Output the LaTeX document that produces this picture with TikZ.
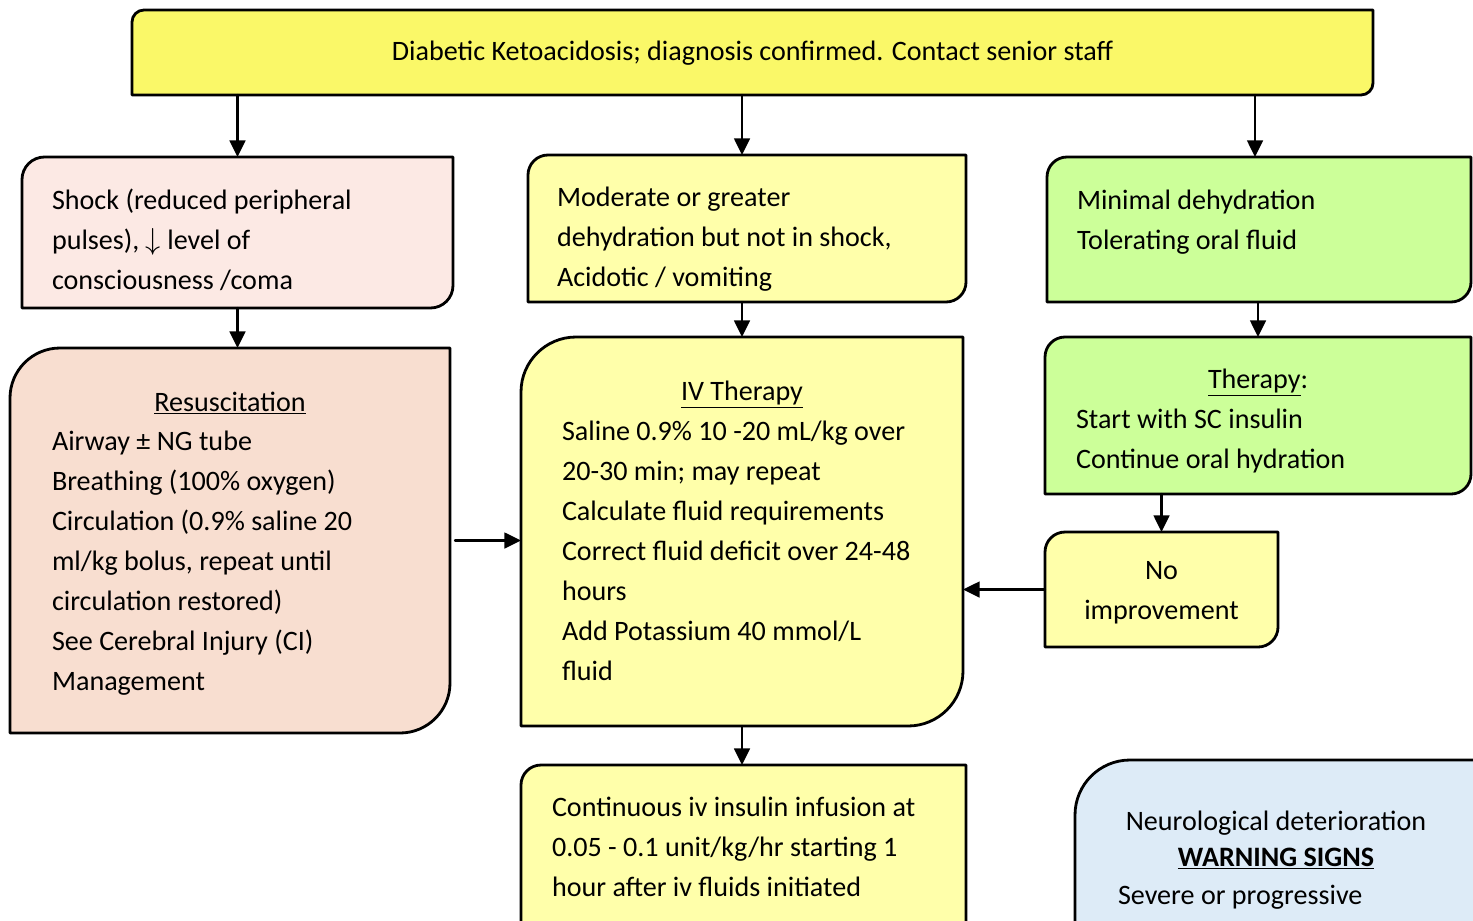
\documentclass[tikz,border=0pt]{standalone}
\usepackage{fontspec}
\setmainfont{Carlito}
\usetikzlibrary{positioning,arrows.meta,fit}

\definecolor{topyellow}{RGB}{250,248,104}
\definecolor{paleyellow}{RGB}{255,255,170}
\definecolor{shockpink}{RGB}{252,233,228}
\definecolor{resuspeach}{RGB}{248,222,208}
\definecolor{mildgreen}{RGB}{204,255,153}
\definecolor{warnblue}{RGB}{221,235,247}

\newcommand{\dkafont}{\fontsize{16}{22.7}\selectfont}

% box with two rounded corners (top left, bottom right)
\newcommand{\dkaframe}[3]{%
  \draw[outline, fill=#3] ([yshift=-#2]#1.north west) arc[start angle=180, end angle=90, radius=#2]
    -- (#1.north east) -- ([yshift=#2]#1.south east) arc[start angle=0, end angle=-90, radius=#2]
    -- (#1.south west) -- cycle;}

\tikzset{
  boxarea/.style={inner sep=0pt, outer sep=0pt},
  outline/.style={line width=1.6pt},
  txt/.style={inner sep=0pt, outer sep=0pt, align=left, anchor=north west, font=\dkafont},
  arr/.style={line width=1.3pt, -{Triangle[length=9.5pt,width=9pt]}}
}

\begin{document}
\begin{tikzpicture}[x=0.02cm, y=-0.02cm, line cap=round, line join=round]
\useasboundingbox (0,0) rectangle (1473,920);
\clip (0,0) rectangle (1473,920);

% Top box
\node[boxarea, fit={(132,10) (1373,95)}] (top) {};
\dkaframe{top}{0.24cm}{topyellow}
\node[txt, anchor=base] (top-t) at ([shift={(0,50)}]top.north)
  {Diabetic Ketoacidosis; diagnosis confirmed. Contact senior staff};

% Shock column
\node[boxarea, fit={(22,157) (453,308)}] (shock) {};
\dkaframe{shock}{0.45cm}{shockpink}
\node[txt] (shock-t) at ([shift={(30,25)}]shock.north west)
  {\strut Shock (reduced peripheral\\ pulses), $\downarrow$ level of\\ consciousness /coma};

\node[boxarea, fit={(10,348) (450,733)}] (resus) {};
\dkaframe{resus}{1.0cm}{resuspeach}
\node[txt, anchor=base] (resus-h) at ([shift={(0,63)}]resus.north) {\underline{Resuscitation}};
\node[txt] (resus-t) at ([shift={(42,75)}]resus.north west)
  {\strut Airway ± NG tube\\ Breathing (100\% oxygen)\\ Circulation (0.9\% saline 20\\
   ml/kg bolus, repeat until\\ circulation restored)\\ See Cerebral Injury (CI)\\ Management};

% Moderate column
\node[boxarea, fit={(528,155) (966,302)}] (mod) {};
\dkaframe{mod}{0.4cm}{paleyellow}
\node[txt] (mod-t) at ([shift={(29,24)}]mod.north west)
  {\strut Moderate or greater\\ dehydration but not in shock,\\ Acidotic / vomiting};

\node[boxarea, fit={(521,337) (963,726)}] (iv) {};
\dkaframe{iv}{1.1cm}{paleyellow}
\node[txt, anchor=base] (iv-h) at ([shift={(0,63)}]iv.north) {\underline{IV Therapy}};
\node[txt] (iv-t) at ([shift={(41,76)}]iv.north west)
  {\strut Saline 0.9\% 10 -20 mL/kg over\\ 20-30 min; may repeat\\ Calculate fluid requirements\\
   Correct fluid deficit over 24-48\\ hours\\ Add Potassium 40 mmol/L\\ fluid};

\node[boxarea, fit={(521,765) (966,960)}] (cont) {};
\dkaframe{cont}{0.4cm}{paleyellow}
\node[txt] (cont-t) at ([shift={(31,24)}]cont.north west)
  {\strut Continuous iv insulin infusion at\\ 0.05 - 0.1 unit/kg/hr starting 1\\ hour after iv fluids initiated};

% Minimal column
\node[boxarea, fit={(1047,157) (1471,302)}] (minimal) {};
\dkaframe{minimal}{0.4cm}{mildgreen}
\node[txt] (minimal-t) at ([shift={(30,25)}]minimal.north west)
  {\strut Minimal dehydration\\ Tolerating oral fluid};

\node[boxarea, fit={(1045,337) (1471,494)}] (therapy) {};
\dkaframe{therapy}{0.4cm}{mildgreen}
\node[txt, anchor=base] (therapy-h) at ([shift={(0,51)}]therapy.north) {\underline{Therapy}:};
\node[txt] (therapy-t) at ([shift={(31,64)}]therapy.north west)
  {\strut Start with SC insulin\\ Continue oral hydration};

\node[boxarea, fit={(1045,532) (1278,647)}] (noimp) {};
\dkaframe{noimp}{0.4cm}{paleyellow}
\node[txt, align=center, anchor=north] (noimp-t) at ([shift={(0,20)}]noimp.north)
  {\strut No\\ improvement};

% Warning box
\node[boxarea, fit={(1075,760) (1500,960)}] (neuro) {};
\dkaframe{neuro}{1.1cm}{warnblue}
\node[txt, anchor=base] (neuro-a) at ([shift={(201,70)}]neuro.north west) {Neurological deterioration};
\node[txt, anchor=base] (neuro-h) at ([shift={(201,106)}]neuro.north west) {\textbf{\underline{WARNING SIGNS}}};
\node[txt, anchor=base west] (neuro-t) at ([shift={(43,144)}]neuro.north west) {Severe or progressive};

% Arrows
\draw[arr] (top.south -| shock.north) -- (shock.north);
\draw[arr] ([xshift=-0.1cm]top.south -| mod.north) -- ([xshift=-0.1cm]mod.north);
\draw[arr] ([xshift=-0.08cm]top.south -| minimal.north) -- ([xshift=-0.08cm]minimal.north);
\draw[arr] (shock.south) -- (resus.north -| shock.south);
\draw[arr] (mod.south -| iv.north) -- (iv.north);
\draw[arr] (iv.south) -- (cont.north -| iv.south);
\draw[arr] (minimal.south -| therapy.north) -- (therapy.north);
\draw[arr] (therapy.south -| noimp.north) -- (noimp.north);
\draw[arr, shorten <=0.1cm] (resus.east) -- (iv.west |- resus.east);
\draw[arr] (noimp.west) -- (iv.east |- noimp.west);
\end{tikzpicture}
\end{document}
